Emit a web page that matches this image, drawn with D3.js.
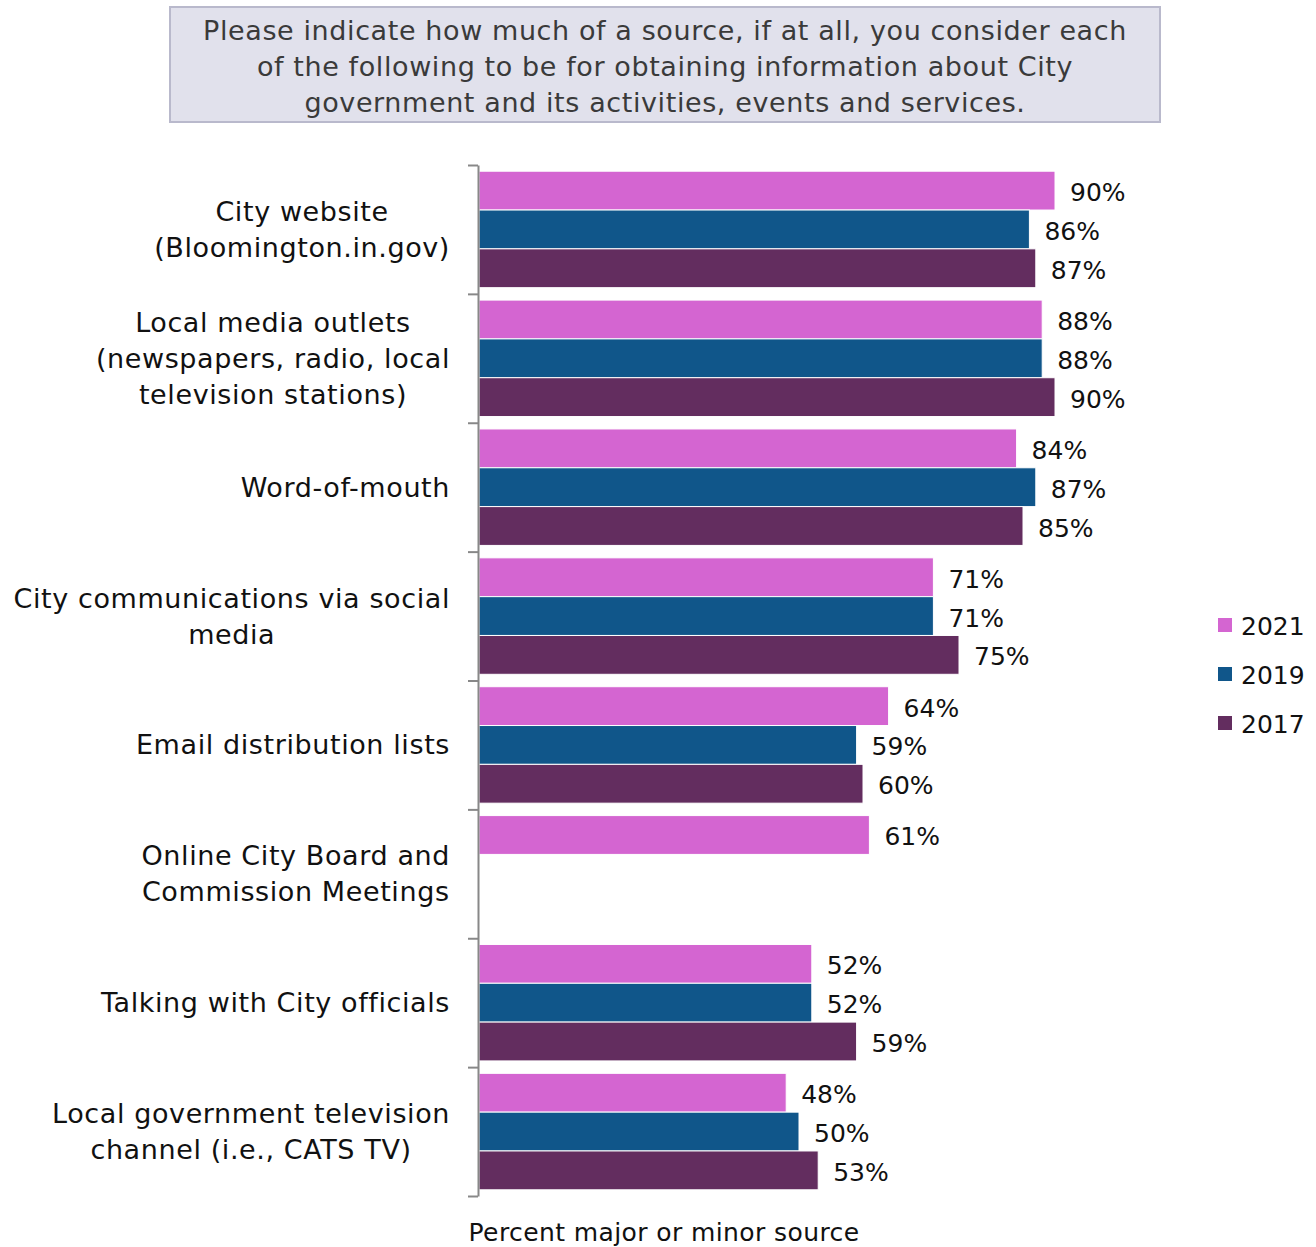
<!DOCTYPE html>
<html>
<head>
<meta charset="utf-8">
<script src="https://cdn.jsdelivr.net/npm/d3@7"></script>
<style>
  body { margin: 0; background: #fff; }
  svg text { font-family: "DejaVu Sans", sans-serif; }
</style>
</head>
<body>
<div id="chart"></div>
<script>
// data
var categories = [
    "City website\n(Bloomington.in.gov)",
    "Local media outlets\n(newspapers, radio, local\ntelevision stations)",
    "Word-of-mouth",
    "City communications via social\nmedia",
    "Email distribution lists",
    "Online City Board and\nCommission Meetings",
    "Talking with City officials",
    "Local government television\nchannel (i.e., CATS TV)"
];
var seriesNames = ["2021", "2019", "2017"];
var values2021 = [90, 88, 84, 71, 64, 61, 52, 48];
var values2019 = [86, 88, 87, 71, 59, null, 52, 50];
var values2017 = [87, 90, 85, 75, 60, null, 59, 53];
var colors = ["#d465d1", "#10568a", "#632d5f"];
var titleLines = [
    "Please indicate how much of a source, if at all, you consider each",
    "of the following to be for obtaining information about City",
    "government and its activities, events and services."
];
var axisTitle = "Percent major or minor source";

var width = 1316, height = 1247;
var plotTop = 165, plotBottom = 1196, plotLeft = 478;

var svg = d3.select("#chart")
    .append("svg")
    .attr("width", width)
    .attr("height", height);

// title box
svg.append("rect")
    .attr("x", 170).attr("y", 7)
    .attr("width", 990).attr("height", 115)
    .attr("fill", "#e1e1ec")
    .attr("stroke", "#b9b9cc")
    .attr("stroke-width", 2);

svg.append("g").selectAll("text")
    .data(titleLines)
    .enter()
    .append("text")
    .attr("x", 665)
    .attr("y", function (d, i) { return 30 + i * 36; })
    .attr("text-anchor", "middle")
    .attr("dominant-baseline", "central")
    .attr("fill", "#3a3a3a")
    .style("font-size", "27px")
    .style("letter-spacing", "0.6px")
    .text(function (d) { return d; });

// scales
var x = d3.scaleLinear()
    .domain([0, 100])
    .range([plotLeft + 1, 1119]);

var y = d3.scaleBand()
    .domain(d3.range(categories.length))
    .range([plotTop, plotBottom])
    .paddingInner(0)
    .paddingOuter(0);

var ySub = d3.scaleBand()
    .domain(seriesNames)
    .range([0, y.bandwidth()])
    .paddingInner(0)
    .paddingOuter(0.16);

var tickScale = d3.scaleLinear()
    .domain([0, categories.length])
    .range([plotTop, plotBottom]);

var seriesValues = [values2021, values2019, values2017];
var barData = [];
seriesValues.forEach(function (vals, s) {
    vals.forEach(function (v, i) {
        if (v != null) barData.push({ cat: i, series: seriesNames[s], s: s, value: v });
    });
});

// bars
svg.append("g")
    .selectAll("rect")
    .data(barData)
    .enter()
    .append("rect")
    .attr("x", x(0))
    .attr("y", function (d) { return y(d.cat) + ySub(d.series); })
    .attr("width", function (d) { return x(d.value) - x(0); })
    .attr("height", ySub.bandwidth())
    .attr("fill", function (d) { return colors[d.s]; })
    .attr("stroke", "#fff")
    .attr("stroke-width", 1);

// value labels
svg.append("g")
    .selectAll("text")
    .data(barData)
    .enter()
    .append("text")
    .attr("x", function (d) { return x(d.value) + 15; })
    .attr("y", function (d) { return y(d.cat) + ySub(d.series) + ySub.bandwidth() / 2 + 2; })
    .attr("dominant-baseline", "central")
    .attr("fill", "#111")
    .style("font-size", "25px")
    .text(function (d) { return d.value + "%"; });

// axis
var axis = svg.append("g")
    .attr("transform", "translate(" + plotLeft + ",0)")
    .call(d3.axisLeft(tickScale)
        .tickValues(d3.range(categories.length + 1))
        .tickFormat("")
        .tickSize(10)
        .tickSizeOuter(0));
axis.select(".domain").attr("stroke", "#888").attr("stroke-width", 2);
axis.selectAll(".tick line").attr("stroke", "#888").attr("stroke-width", 2);

// category labels
var catLabels = svg.append("g")
    .selectAll("text")
    .data(categories)
    .enter()
    .append("text")
    .attr("text-anchor", "middle")
    .attr("fill", "#111")
    .style("font-size", "27px")
    .style("letter-spacing", "0.6px");

catLabels.each(function (d, i) {
    var lines = d.split("\n");
    var t = d3.select(this);
    var cy = y(i) + y.bandwidth() / 2;
    lines.forEach(function (line, j) {
        t.append("tspan")
            .attr("y", cy + (j - (lines.length - 1) / 2) * 36)
            .attr("dominant-baseline", "central")
            .text(line);
    });
    var maxW = 0;
    t.selectAll("tspan").each(function () {
        maxW = Math.max(maxW, this.getComputedTextLength());
    });
    t.selectAll("tspan").attr("x", 450 - maxW / 2);
});

// legend
var legend = svg.append("g")
    .selectAll("g")
    .data(seriesNames)
    .enter()
    .append("g")
    .attr("transform", function (d, i) { return "translate(1218," + (625 + i * 49) + ")"; });
legend.append("rect")
    .attr("x", 0).attr("y", -7)
    .attr("width", 14).attr("height", 14)
    .attr("fill", function (d, i) { return colors[i]; });
legend.append("text")
    .attr("x", 23)
    .attr("y", 1)
    .attr("dominant-baseline", "central")
    .attr("fill", "#111")
    .style("font-size", "25px")
    .text(function (d) { return d; });

// axis title
svg.append("text")
    .attr("x", 664)
    .attr("y", 1232)
    .attr("text-anchor", "middle")
    .attr("dominant-baseline", "central")
    .attr("fill", "#111")
    .style("font-size", "25px")
    .style("letter-spacing", "0.4px")
    .text(axisTitle);
</script>
</body>
</html>
